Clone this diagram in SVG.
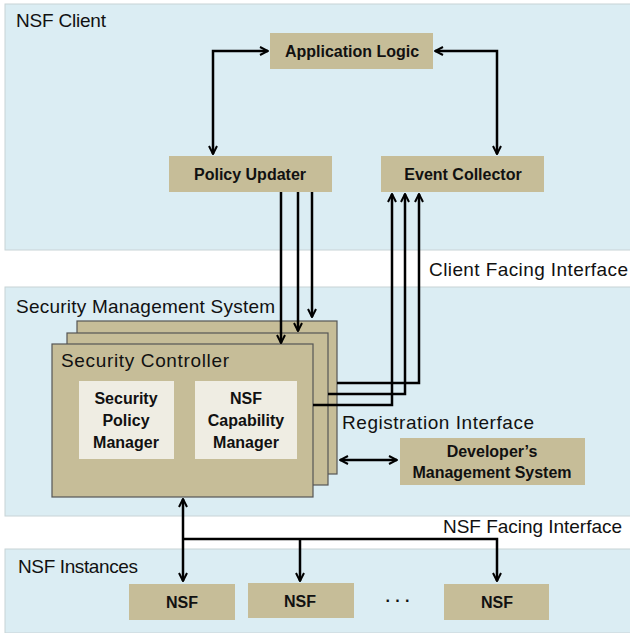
<svg xmlns="http://www.w3.org/2000/svg" width="630" height="633" viewBox="0 0 630 633">
<style>
.panel{fill:#dbedf3;stroke:#c8d3d6;stroke-width:1}
.node{fill:#c6bd98}
.stack{fill:#c6bd98;stroke:#555;stroke-width:1.2}
.inner{fill:#efede3}
.lbl{font-family:"Liberation Sans",Arial,sans-serif;font-size:19px;fill:#111}
.bt{font-family:"Liberation Sans",Arial,sans-serif;font-size:16px;font-weight:bold;fill:#111;text-anchor:middle}
.conn{fill:none;stroke:#000;stroke-width:2.5}
</style>
<defs>
<marker id="ah" viewBox="0 0 10 10" refX="9" refY="5" markerWidth="10" markerHeight="10" markerUnits="userSpaceOnUse" orient="auto-start-reverse">
<path d="M1,1 L9,5 L1,9" fill="none" stroke="#000" stroke-width="2"/>
</marker>
</defs>
<g id="panels">
<rect class="panel" x="5" y="4" width="630" height="246"/>
<rect class="panel" x="5" y="287" width="630" height="229"/>
<rect class="panel" x="5" y="549" width="630" height="84"/>
<text class="lbl" x="16" y="27" textLength="90">NSF Client</text>
<text class="lbl" x="429" y="276" textLength="199">Client Facing Interface</text>
<text class="lbl" x="16" y="313" textLength="259">Security Management System</text>
<text class="lbl" x="443" y="533" textLength="179">NSF Facing Interface</text>
<text class="lbl" x="18" y="573" textLength="120">NSF Instances</text>
<text class="lbl" x="342" y="429" textLength="192">Registration Interface</text>
</g>
<g id="app-logic"><rect class="node" x="270" y="33" width="163" height="36"/><text class="bt" x="352" y="57">Application Logic</text></g>
<g id="policy-updater"><rect class="node" x="169" y="156" width="163" height="36"/><text class="bt" x="250" y="180">Policy Updater</text></g>
<g id="event-collector"><rect class="node" x="381" y="156" width="163" height="36"/><text class="bt" x="463" y="180">Event Collector</text></g>
<g id="security-controller">
<rect class="stack" x="77" y="321" width="260" height="153"/>
<rect class="stack" x="67" y="333" width="261" height="152"/>
<rect class="stack" x="52" y="344" width="261" height="153"/>
<text class="lbl" x="61" y="367" textLength="168">Security Controller</text>
<g id="security-policy-manager"><rect class="inner" x="79" y="381" width="95" height="78"/>
<text class="bt" x="126" y="404">Security</text><text class="bt" x="126" y="426">Policy</text><text class="bt" x="126" y="448">Manager</text></g>
<g id="nsf-capability-manager"><rect class="inner" x="195" y="381" width="102" height="78"/>
<text class="bt" x="246" y="404">NSF</text><text class="bt" x="246" y="426">Capability</text><text class="bt" x="246" y="448">Manager</text></g>
</g>
<g id="developers-ms"><rect class="node" x="400" y="438" width="185" height="47"/>
<text class="bt" x="492" y="457">Developer’s</text><text class="bt" x="492" y="478">Management System</text></g>
<g id="nsf1"><rect class="node" x="129" y="584" width="106" height="36"/><text class="bt" x="182" y="608">NSF</text></g>
<g id="nsf2"><rect class="node" x="248" y="583" width="106" height="35"/><text class="bt" x="300" y="607">NSF</text></g>
<text class="bt" x="398" y="606">· · ·</text>
<g id="nsf3"><rect class="node" x="444" y="584" width="105" height="36"/><text class="bt" x="497" y="608">NSF</text></g>
<g id="connectors">
<path class="conn" d="M268 51 L213 51 L213 154" marker-start="url(#ah)" marker-end="url(#ah)"/>
<path class="conn" d="M435 51 L497 51 L497 154" marker-start="url(#ah)" marker-end="url(#ah)"/>
<path class="conn" d="M281 192 L281 343" marker-end="url(#ah)"/>
<path class="conn" d="M298 192 L298 331" marker-end="url(#ah)"/>
<path class="conn" d="M312 192 L312 317" marker-end="url(#ah)"/>
<path class="conn" d="M337 383 L419 383 L419 194" marker-end="url(#ah)"/>
<path class="conn" d="M328 394 L405 394 L405 194" marker-end="url(#ah)"/>
<path class="conn" d="M313 405 L392 405 L392 194" marker-end="url(#ah)"/>
<path class="conn" d="M340 460 L397 460" marker-start="url(#ah)" marker-end="url(#ah)"/>
<path class="conn" d="M183 499 L183 581" marker-start="url(#ah)" marker-end="url(#ah)"/>
<path class="conn" d="M183 539 L497 539 L497 581" marker-end="url(#ah)"/>
<path class="conn" d="M300 539 L300 581" marker-end="url(#ah)"/>
</g>
</svg>
